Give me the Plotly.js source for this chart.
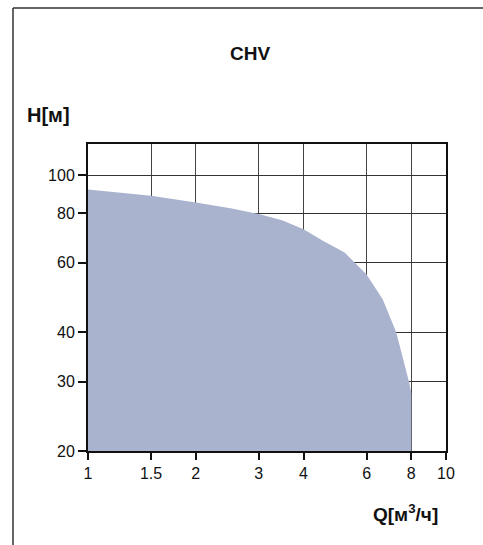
<!DOCTYPE html>
<html>
<head>
<meta charset="utf-8">
<script src="https://cdn.plot.ly/plotly-3.0.1.min.js"></script>
<style>html,body{margin:0;padding:0;background:#fff;}#chart{width:483px;height:545px;}</style>
</head>
<body>
<div id="chart"></div>
<script>
// Pump curve CHV (log-log axes)
const flowQ = [1, 1.5, 2, 2.5, 3, 3.5, 4, 4.53, 5.21, 6, 6.66, 7.26, 7.9, 8, 8, 1];
const headH = [92, 88.7, 85.3, 82.5, 79.7, 76.8, 73, 68.2, 63.7, 56, 48.4, 40, 29.7, 28, 20, 20];
const xTicks = [1, 1.5, 2, 3, 4, 6, 8, 10];
const xTickText = ['1', '1.5', '2', '3', '4', '6', '8', '10'];
const yTicks = [20, 30, 40, 60, 80, 100];
const yTickText = ['20', '30', '40', '60', '80', '100'];

const trace = {
  x: flowQ, y: headH, type: 'scatter', mode: 'lines',
  fill: 'toself', fillcolor: '#a9b3ce', line: {width: 0, color: '#a9b3ce'},
  hoverinfo: 'skip', showlegend: false
};

const font = {family: 'Liberation Sans, Arial, sans-serif', color: '#111'};
const layout = {
  width: 483, height: 545,
  margin: {l: 88, r: 37, t: 144, b: 94},
  paper_bgcolor: '#fff', plot_bgcolor: '#fff',
  showlegend: false,
  xaxis: {
    type: 'log', range: [0, 1], tickvals: xTicks, ticktext: xTickText,
    showgrid: true, gridcolor: '#444', gridwidth: 1,
    showline: true, linecolor: '#111', linewidth: 2, mirror: true,
    ticks: 'outside', ticklen: 7, tickwidth: 2, tickcolor: '#111',
    tickfont: Object.assign({size: 16}, font), zeroline: false
  },
  yaxis: {
    type: 'log', range: [Math.log10(20), Math.log10(120)], tickvals: yTicks, ticktext: yTickText,
    showgrid: true, gridcolor: '#333', gridwidth: 1,
    showline: true, linecolor: '#111', linewidth: 2, mirror: true,
    ticks: 'outside', ticklen: 8, tickwidth: 2, tickcolor: '#111',
    tickfont: Object.assign({size: 16}, font), zeroline: false
  },
  annotations: [
    {text: '<b>CHV</b>', xref: 'paper', yref: 'paper', x: (250-88)/358, y: (451-53)/307, xanchor: 'center', yanchor: 'middle', showarrow: false, font: Object.assign({size: 19}, font)},
    {text: '<b>H[м]</b>', xref: 'paper', yref: 'paper', x: (25-88)/358, y: (451-115)/307, xanchor: 'left', yanchor: 'middle', showarrow: false, font: Object.assign({size: 20}, font)},
    {text: '<b>Q[м<sup>3</sup>/ч]</b>', xref: 'paper', yref: 'paper', x: (440-88)/358, y: (451-513)/307, xanchor: 'right', yanchor: 'middle', showarrow: false, font: Object.assign({size: 19}, font)}
  ],
  shapes: [
    {type: 'line', xref: 'paper', yref: 'paper', x0: (13-88)/358, x1: (490-88)/358, y0: (451-8)/307, y1: (451-8)/307, line: {color: '#333', width: 1.5}},
    {type: 'line', xref: 'paper', yref: 'paper', x0: (13-88)/358, x1: (13-88)/358, y0: (451-8)/307, y1: (451-560)/307, line: {color: '#333', width: 1.5}}
  ]
};
Plotly.newPlot('chart', [trace], layout, {staticPlot: true, displayModeBar: false});
</script>
</body>
</html>
